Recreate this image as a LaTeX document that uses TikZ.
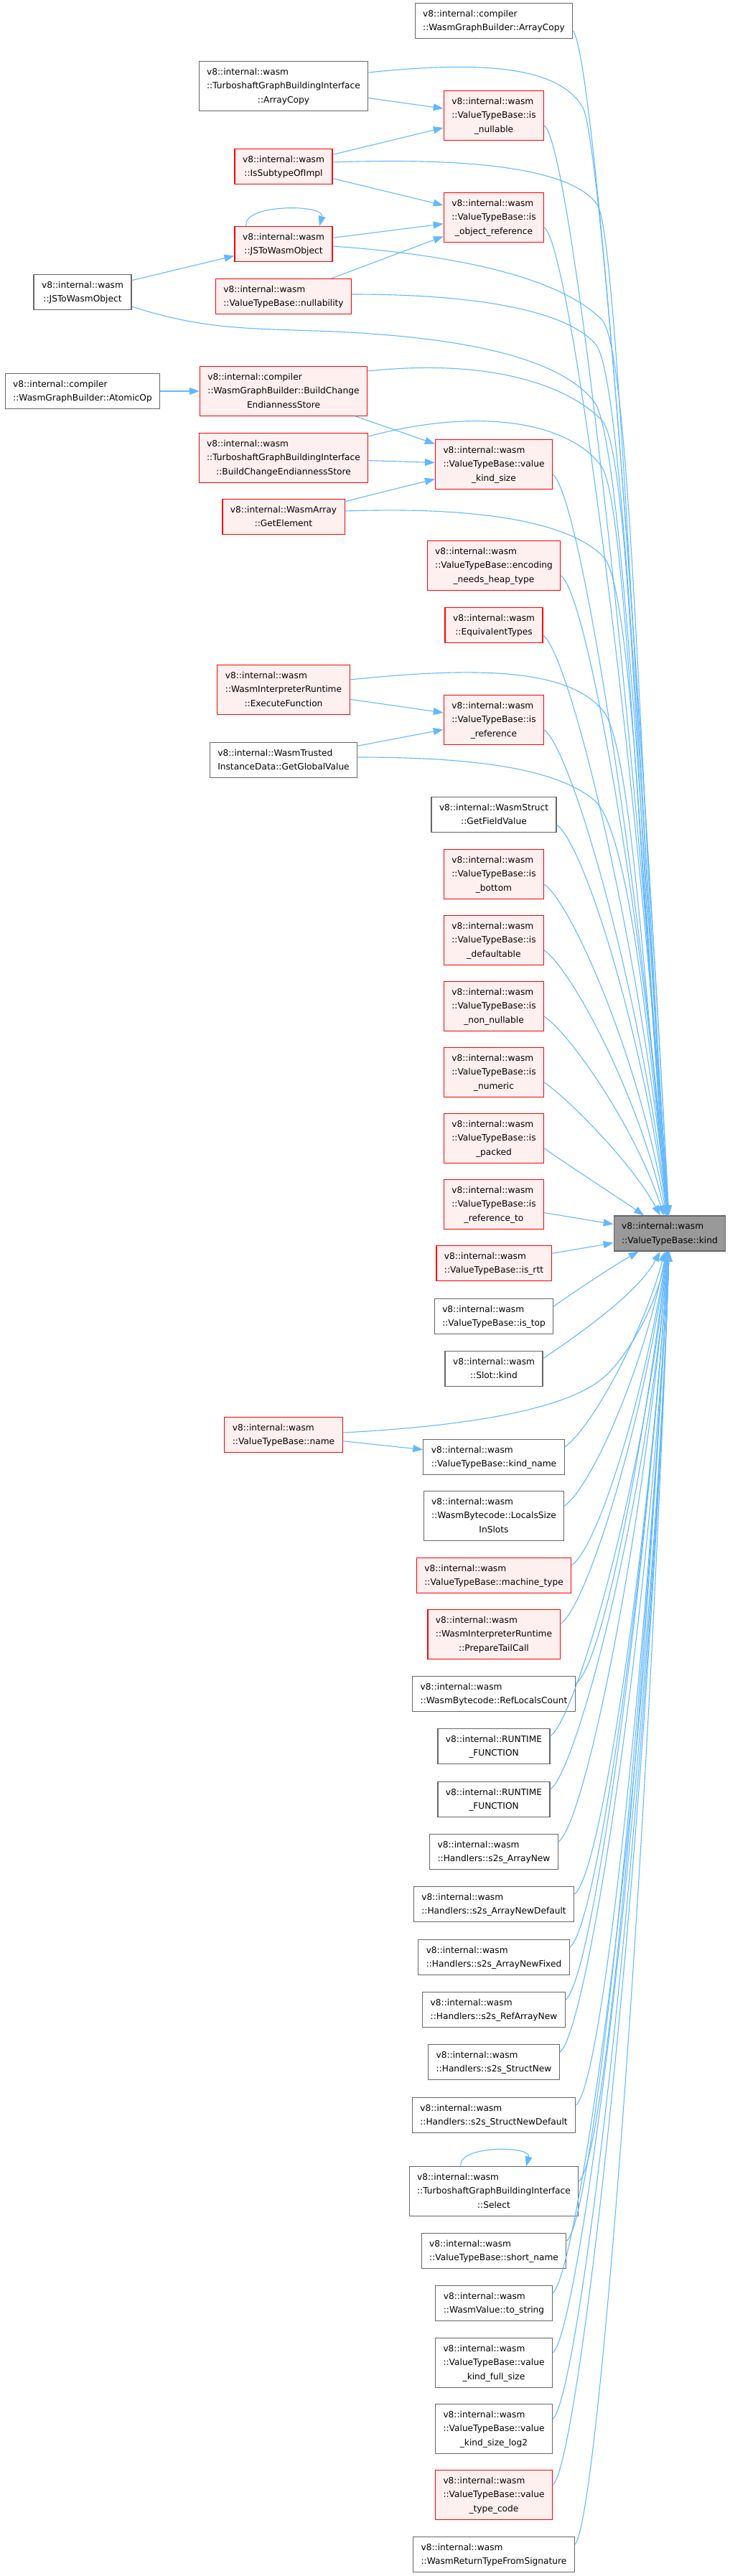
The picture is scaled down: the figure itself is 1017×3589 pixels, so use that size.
\documentclass[tikz,border=0pt]{standalone}
\usepackage{fontspec}
\setmainfont{DejaVu Sans}
\usetikzlibrary{arrows.meta}
\definecolor{EdgeBlue}{RGB}{99,184,255}
\definecolor{HotRed}{RGB}{255,0,0}
\definecolor{SoftRed}{RGB}{255,240,240}
\definecolor{NodeGray}{RGB}{102,102,102}
\definecolor{TargetFill}{RGB}{153,153,153}
\newcommand{\twoln}[2]{\begin{tabular}{@{}l@{}}#1\\\multicolumn{1}{@{}c@{}}{#2}\end{tabular}}
\newcommand{\threeln}[3]{\begin{tabular}{@{}l@{}}#1\\#2\\\multicolumn{1}{@{}c@{}}{#3}\end{tabular}}
\tikzset{
  plain/.style={draw=NodeGray,fill=white,line width=1.1pt,inner xsep=11pt,
    inner ysep=5.2pt,font=\fontsize{12.2}{19.3}\selectfont},
  trunc/.style={plain,draw=HotRed,fill=SoftRed},
  target/.style={plain,fill=TargetFill},
  callee/.style={-{Triangle[length=14pt,width=10pt]},EdgeBlue,line width=1.1pt}
}

\begin{document}
\begin{tikzpicture}[x=1pt,y=1pt]
  \useasboundingbox (0,0) rectangle (1017,-3589);
  \node[target] (kind) at (933,-1718.5) {\twoln{v8::internal::wasm}{::ValueTypeBase::kind}};

  \node[plain] (jstoL) at (115,-407) {\twoln{v8::internal::wasm}{::JSToWasmObject}};
  \node[plain] (atomic) at (115,-545) {\twoln{v8::internal::compiler}{::WasmGraphBuilder::AtomicOp}};

  \node[plain] (tsacopy) at (395,-120) {\threeln{v8::internal::wasm}{::TurboshaftGraphBuildingInterface}{::ArrayCopy}};
  \node[trunc] (subtype) at (395,-232) {\twoln{v8::internal::wasm}{::IsSubtypeOfImpl}};
  \node[trunc] (jsto) at (395,-340) {\twoln{v8::internal::wasm}{::JSToWasmObject}};
  \node[trunc] (nullab) at (395,-413) {\twoln{v8::internal::wasm}{::ValueTypeBase::nullability}};
  \node[trunc] (bces) at (395,-545) {\threeln{v8::internal::compiler}{::WasmGraphBuilder::BuildChange}{EndiannessStore}};
  \node[trunc] (tsbces) at (395,-638) {\threeln{v8::internal::wasm}{::TurboshaftGraphBuildingInterface}{::BuildChangeEndiannessStore}};
  \node[trunc] (getel) at (395,-720) {\twoln{v8::internal::WasmArray}{::GetElement}};
  \node[trunc] (exec) at (395,-961) {\threeln{v8::internal::wasm}{::WasmInterpreterRuntime}{::ExecuteFunction}};
  \node[plain] (getglob) at (395,-1059) {\twoln{v8::internal::WasmTrusted}{InstanceData::GetGlobalValue}};
  \node[trunc] (name) at (395,-1999) {\twoln{v8::internal::wasm}{::ValueTypeBase::name}};

  \node[plain] (acopy) at (688,-29) {\twoln{v8::internal::compiler}{::WasmGraphBuilder::ArrayCopy}};
  \node[trunc] (isnull) at (688,-161) {\threeln{v8::internal::wasm}{::ValueTypeBase::is}{\_nullable}};
  \node[trunc] (isobj) at (688,-303) {\threeln{v8::internal::wasm}{::ValueTypeBase::is}{\_object\_reference}};
  \node[trunc] (vks) at (688,-647) {\threeln{v8::internal::wasm}{::ValueTypeBase::value}{\_kind\_size}};
  \node[trunc] (enc) at (688,-788) {\threeln{v8::internal::wasm}{::ValueTypeBase::encoding}{\_needs\_heap\_type}};
  \node[trunc] (equiv) at (688,-871) {\twoln{v8::internal::wasm}{::EquivalentTypes}};
  \node[trunc] (isref) at (688,-1003) {\threeln{v8::internal::wasm}{::ValueTypeBase::is}{\_reference}};
  \node[plain] (getfield) at (688,-1135) {\twoln{v8::internal::WasmStruct}{::GetFieldValue}};
  \node[trunc] (isbot) at (688,-1218) {\threeln{v8::internal::wasm}{::ValueTypeBase::is}{\_bottom}};
  \node[trunc] (isdef) at (688,-1310) {\threeln{v8::internal::wasm}{::ValueTypeBase::is}{\_defaultable}};
  \node[trunc] (isnn) at (688,-1402) {\threeln{v8::internal::wasm}{::ValueTypeBase::is}{\_non\_nullable}};
  \node[trunc] (isnum) at (688,-1494) {\threeln{v8::internal::wasm}{::ValueTypeBase::is}{\_numeric}};
  \node[trunc] (ispk) at (688,-1586) {\threeln{v8::internal::wasm}{::ValueTypeBase::is}{\_packed}};
  \node[trunc] (isrefto) at (688,-1678) {\threeln{v8::internal::wasm}{::ValueTypeBase::is}{\_reference\_to}};
  \node[trunc] (isrtt) at (688,-1760) {\twoln{v8::internal::wasm}{::ValueTypeBase::is\_rtt}};
  \node[plain] (istop) at (688,-1834) {\twoln{v8::internal::wasm}{::ValueTypeBase::is\_top}};
  \node[plain] (slot) at (688,-1907) {\twoln{v8::internal::wasm}{::Slot::kind}};
  \node[plain] (kname) at (688,-2030) {\twoln{v8::internal::wasm}{::ValueTypeBase::kind\_name}};
  \node[plain] (locals) at (688,-2112) {\threeln{v8::internal::wasm}{::WasmBytecode::LocalsSize}{InSlots}};
  \node[trunc] (mtype) at (688,-2195) {\twoln{v8::internal::wasm}{::ValueTypeBase::machine\_type}};
  \node[trunc] (ptc) at (688,-2277) {\threeln{v8::internal::wasm}{::WasmInterpreterRuntime}{::PrepareTailCall}};
  \node[plain] (reflc) at (688,-2360) {\twoln{v8::internal::wasm}{::WasmBytecode::RefLocalsCount}};
  \node[plain] (rtfa) at (688,-2433) {\twoln{v8::internal::RUNTIME}{\_FUNCTION}};
  \node[plain] (rtfb) at (688,-2507) {\twoln{v8::internal::RUNTIME}{\_FUNCTION}};
  \node[plain] (s2san) at (688,-2580) {\twoln{v8::internal::wasm}{::Handlers::s2s\_ArrayNew}};
  \node[plain] (s2sand) at (688,-2653) {\twoln{v8::internal::wasm}{::Handlers::s2s\_ArrayNewDefault}};
  \node[plain] (s2sanf) at (688,-2727) {\twoln{v8::internal::wasm}{::Handlers::s2s\_ArrayNewFixed}};
  \node[plain] (s2sran) at (688,-2800) {\twoln{v8::internal::wasm}{::Handlers::s2s\_RefArrayNew}};
  \node[plain] (s2ssn) at (688,-2873) {\twoln{v8::internal::wasm}{::Handlers::s2s\_StructNew}};
  \node[plain] (s2ssnd) at (688,-2947) {\twoln{v8::internal::wasm}{::Handlers::s2s\_StructNewDefault}};
  \node[plain] (select) at (688,-3053) {\threeln{v8::internal::wasm}{::TurboshaftGraphBuildingInterface}{::Select}};
  \node[plain] (short) at (688,-3136) {\twoln{v8::internal::wasm}{::ValueTypeBase::short\_name}};
  \node[plain] (tostr) at (688,-3209) {\twoln{v8::internal::wasm}{::WasmValue::to\_string}};
  \node[plain] (vkfs) at (688,-3292) {\threeln{v8::internal::wasm}{::ValueTypeBase::value}{\_kind\_full\_size}};
  \node[plain] (vksl) at (688,-3384) {\threeln{v8::internal::wasm}{::ValueTypeBase::value}{\_kind\_size\_log2}};
  \node[trunc] (vtc) at (688,-3476) {\threeln{v8::internal::wasm}{::ValueTypeBase::value}{\_type\_code}};
  \node[plain] (wrt) at (688,-3559) {\twoln{v8::internal::wasm}{::WasmReturnTypeFromSignature}};

  \draw[callee] (tsacopy) -- (isnull);
  \draw[callee] (subtype) -- (isnull);
  \draw[callee] (subtype) -- (isobj);
  \draw[callee] (jsto) -- (isobj);
  \draw[callee] (nullab) -- (isobj);
  \draw[callee] (jstoL) -- (jsto);
  \draw[callee] (atomic) -- (bces);
  \draw[callee] (bces) -- (vks);
  \draw[callee] (tsbces) -- (vks);
  \draw[callee] (getel) -- (vks);
  \draw[callee] (exec) -- (isref);
  \draw[callee] (getglob) -- (isref);
  \draw[callee] (name) -- (kname);
  \draw[callee] (isrefto) -- (kind);
  \draw[callee] (isrtt) -- (kind);
  \draw[callee] ([xshift=-52pt]jsto.north) to[out=100,in=75,looseness=0.8] ([xshift=50pt]jsto.north);
  \draw[callee] ([xshift=-46pt]select.north) to[out=100,in=75,looseness=0.85] ([xshift=45pt]select.north);

  \draw[callee] ([yshift=19pt]tsacopy.east) .. controls +(6:180) and +(120:60) .. (812,-150)
    .. controls +(-60:50) and +(93:700) .. (kind.93);
  \draw[callee] ([yshift=6pt]subtype.east) .. controls +(2:200) and +(125:60) .. (832,-285)
    .. controls +(-55:50) and +(94:650) .. (kind.94);
  \draw[callee] ([yshift=-3pt]jsto.east) .. controls +(-4:180) and +(135:80) .. (838,-445)
    .. controls +(-45:60) and +(94:580) .. (kind.94);
  \draw[callee] ([yshift=3pt]nullab.east) .. controls +(0:180) and +(130:60) .. (830,-480)
    .. controls +(-50:60) and +(94:560) .. (kind.94);
  \draw[callee] ([yshift=-20pt]jstoL.east) .. controls +(-18:100) and +(178:100) .. (440,-461)
    .. controls +(-2:230) and +(128:70) .. (828,-560)
    .. controls +(-52:60) and +(94:520) .. (kind.94);
  \draw[callee] ([yshift=28pt]bces.east) .. controls +(6:170) and +(135:70) .. (838,-585)
    .. controls +(-45:60) and +(95:500) .. (kind.95);
  \draw[callee] ([yshift=30pt]tsbces.east) .. controls +(15:170) and +(125:70) .. (838,-650)
    .. controls +(-55:60) and +(95:480) .. (kind.95);
  \draw[callee] ([yshift=8pt]getel.east) .. controls +(2:180) and +(135:70) .. (840,-775)
    .. controls +(-45:60) and +(95:420) .. (kind.95);
  \draw[callee] ([yshift=14pt]exec.east) .. controls +(6:200) and +(130:70) .. (840,-990)
    .. controls +(-50:60) and +(96:330) .. (kind.96);
  \draw[callee] ([yshift=4pt]getglob.east) .. controls +(0:160) and +(140:70) .. (828,-1115)
    .. controls +(-40:60) and +(96:270) .. (kind.96);
  \draw[callee] ([yshift=3pt]name.east) .. controls +(3:200) and +(-140:60) .. (840,-1920)
    .. controls +(40:40) and +(-100:80) .. (kind.-100);

  \draw[callee] ([yshift=-14pt]acopy.east) .. controls +(-50:45) and +(93:800) .. (kind.93);
  \draw[callee] ([yshift=-14pt]isnull.east) .. controls +(-35:45) and +(94:720) .. (kind.94);
  \draw[callee] ([yshift=-14pt]isobj.east) .. controls +(-35:45) and +(94:650) .. (kind.94);
  \draw[callee] ([yshift=-14pt]vks.east) .. controls +(-35:45) and +(95:500) .. (kind.95);
  \draw[callee] ([yshift=-14pt]enc.east) .. controls +(-35:45) and +(95:430) .. (kind.95);
  \draw[callee] ([yshift=-14pt]equiv.east) .. controls +(-35:45) and +(96:390) .. (kind.96);
  \draw[callee] ([yshift=-14pt]isref.east) .. controls +(-35:45) and +(97:330) .. (kind.97);
  \draw[callee] ([yshift=-14pt]getfield.east) .. controls +(-35:45) and +(98:270) .. (kind.98);
  \draw[callee] ([yshift=-14pt]isbot.east) .. controls +(-35:45) and +(100:230) .. (kind.100);
  \draw[callee] ([yshift=-14pt]isdef.east) .. controls +(-35:45) and +(103:180) .. (kind.103);
  \draw[callee] ([yshift=-14pt]isnn.east) .. controls +(-35:45) and +(108:130) .. (kind.108);
  \draw[callee] ([yshift=-14pt]isnum.east) .. controls +(-35:45) and +(118:80) .. (kind.118);
  \draw[callee] ([yshift=-14pt]ispk.east) .. controls +(-35:45) and +(145:40) .. (kind.145);

  \draw[callee] ([yshift=14pt]istop.east) .. controls +(35:45) and +(-150:40) .. (kind.-150);
  \draw[callee] ([yshift=14pt]slot.east) .. controls +(35:45) and +(-118:70) .. (kind.-118);
  \draw[callee] ([yshift=14pt]kname.east) .. controls +(35:45) and +(-105:120) .. (kind.-105);
  \draw[callee] ([yshift=14pt]locals.east) .. controls +(35:45) and +(-101:170) .. (kind.-101);
  \draw[callee] ([yshift=14pt]mtype.east) .. controls +(35:45) and +(-99:210) .. (kind.-99);
  \draw[callee] ([yshift=14pt]ptc.east) .. controls +(35:45) and +(-98:250) .. (kind.-98);
  \draw[callee] ([yshift=14pt]reflc.east) .. controls +(35:45) and +(-97:290) .. (kind.-97);
  \draw[callee] ([yshift=14pt]rtfa.east) .. controls +(35:45) and +(-96:320) .. (kind.-96);
  \draw[callee] ([yshift=14pt]rtfb.east) .. controls +(35:45) and +(-95:360) .. (kind.-95);
  \draw[callee] ([yshift=14pt]s2san.east) .. controls +(35:45) and +(-95:400) .. (kind.-95);
  \draw[callee] ([yshift=14pt]s2sand.east) .. controls +(35:45) and +(-94:430) .. (kind.-94);
  \draw[callee] ([yshift=14pt]s2sanf.east) .. controls +(35:45) and +(-94:470) .. (kind.-94);
  \draw[callee] ([yshift=14pt]s2sran.east) .. controls +(35:45) and +(-94:500) .. (kind.-94);
  \draw[callee] ([yshift=14pt]s2ssn.east) .. controls +(35:45) and +(-93:540) .. (kind.-93);
  \draw[callee] ([yshift=14pt]s2ssnd.east) .. controls +(35:45) and +(-93:570) .. (kind.-93);
  \draw[callee] ([yshift=14pt]select.east) .. controls +(35:45) and +(-93:620) .. (kind.-93);
  \draw[callee] ([yshift=14pt]short.east) .. controls +(35:45) and +(-93:660) .. (kind.-93);
  \draw[callee] ([yshift=14pt]tostr.east) .. controls +(35:45) and +(-92:700) .. (kind.-92);
  \draw[callee] ([yshift=14pt]vkfs.east) .. controls +(35:45) and +(-92:740) .. (kind.-92);
  \draw[callee] ([yshift=14pt]vksl.east) .. controls +(35:45) and +(-92:780) .. (kind.-92);
  \draw[callee] ([yshift=14pt]vtc.east) .. controls +(35:45) and +(-92:820) .. (kind.-92);
  \draw[callee] ([yshift=14pt]wrt.east) .. controls +(45:45) and +(-92:860) .. (kind.-92);
\end{tikzpicture}
\end{document}
